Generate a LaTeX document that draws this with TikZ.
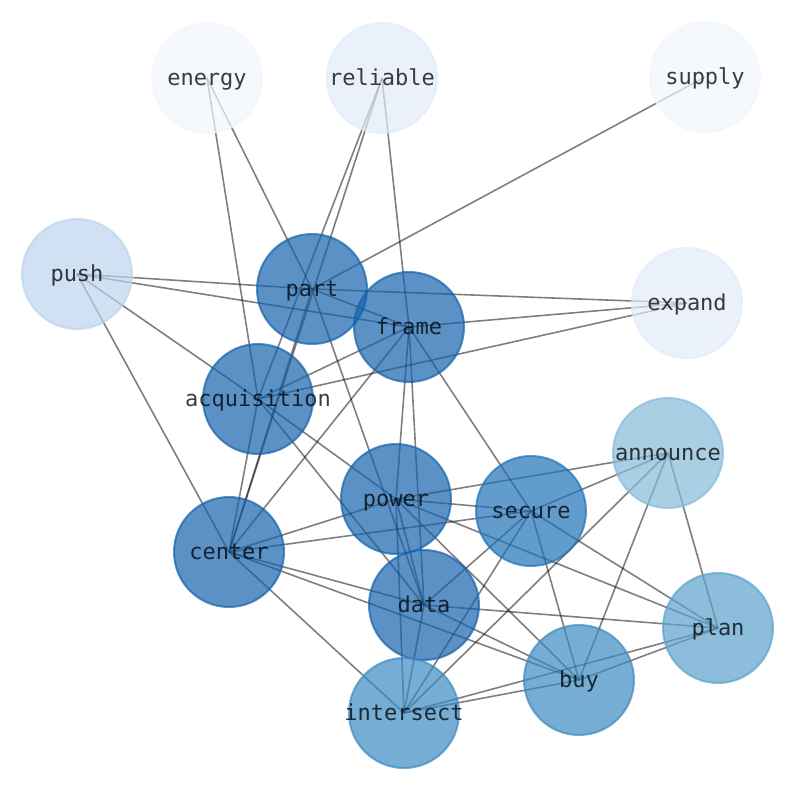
\documentclass[tikz,border=0pt]{standalone}
\usepackage{fontspec}
\setmonofont{DejaVu Sans Mono}
\usetikzlibrary{backgrounds}
\definecolor{wa}{RGB}{241,246,253}
\definecolor{wb}{RGB}{225,235,248}
\definecolor{wc}{RGB}{187,212,236}
\definecolor{wd}{RGB}{134,187,218}
\definecolor{we}{RGB}{91,162,205}
\definecolor{wf}{RGB}{60,138,194}
\definecolor{wg}{RGB}{32,114,184}
\definecolor{wh}{RGB}{22,98,171}
\begin{document}
\begin{tikzpicture}[x=0.75pt,y=-0.75pt,line join=round,line cap=round,
	word/.style={circle,minimum size=82.5pt,inner sep=0pt,line width=1.5pt,
		draw=#1,fill=#1,fill opacity=.7,draw opacity=.7,text=black,text opacity=.76,
		text height=.84em,text depth=.24em,
		font=\ttfamily\fontsize{16.5}{17}\selectfont},
	link/.style={draw=black,draw opacity=.5,line width=1.2pt}]
	\useasboundingbox (0,0) rectangle (794,790);
	% words, placed at pixel positions
	\foreach \n/\x/\y/\c in {energy/207/78/wa,reliable/382/78/wb,supply/705/77/wa,
		push/77/274/wc,part/312/289/wh,frame/409/327/wh,expand/687/303/wb,
		acquisition/258/399/wh,announce/668/453/wd,power/396/499/wh,
		secure/531/511/wg,center/229/552/wh,data/424/605/wh,plan/718/628/we,
		buy/579/680/wf,intersect/404/713/wf}
	\node[word=\c] (\n) at (\x,\y) {\makebox[0pt]{\raisebox{-2.4pt}{\n}}};
	% links behind the words
	\begin{scope}[on background layer]
		\foreach \a/\b in {energy/acquisition,energy/part,
			reliable/acquisition,reliable/center,reliable/frame,supply/part,
			push/part,push/frame,push/acquisition,push/center,
			part/expand,part/frame,part/data,part/center,
			frame/expand,frame/acquisition,frame/center,frame/power,frame/data,frame/secure,
			acquisition/expand,acquisition/center,acquisition/power,acquisition/data,
			center/power,center/secure,center/data,center/buy,center/intersect,
			power/secure,power/announce,power/plan,power/buy,power/intersect,power/data,
			secure/data,secure/announce,secure/plan,secure/buy,secure/intersect,
			data/plan,data/buy,data/intersect,
			announce/intersect,announce/buy,announce/plan,
			buy/plan,buy/intersect,plan/intersect}
		\draw[link] (\a.center)--(\b.center);
	\end{scope}
\end{tikzpicture}
\end{document}
